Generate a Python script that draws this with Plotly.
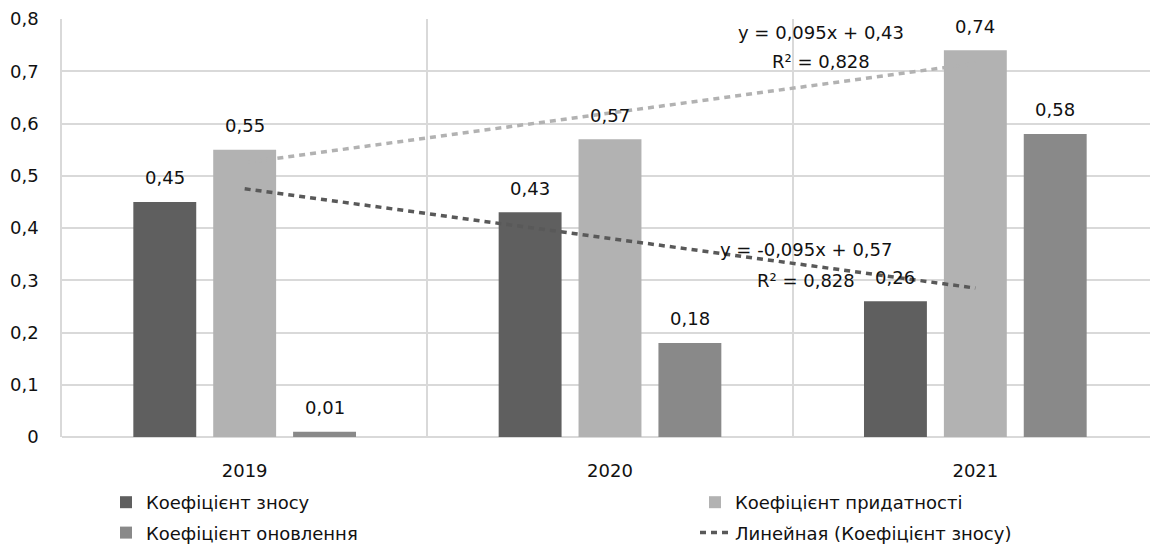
import numpy as np
import plotly.graph_objects as go

# ---- data ----
years = ["2019", "2020", "2021"]
znos = [0.45, 0.43, 0.26]          # Коефіцієнт зносу
prydatnist = [0.55, 0.57, 0.74]    # Коефіцієнт придатності
onovlennia = [0.01, 0.18, 0.58]    # Коефіцієнт оновлення
y_tick_vals = [0, 0.1, 0.2, 0.3, 0.4, 0.5, 0.6, 0.7, 0.8]

name_znos = "Коефіцієнт зносу"
name_pryd = "Коефіцієнт придатності"
name_onov = "Коефіцієнт оновлення"
name_trend = "Линейная (Коефіцієнт зносу)"

# ---- style ----
FONT = "DejaVu Sans"
FS = 18
TXT = "#111111"
C_DARK = "#5f5f5f"
C_LIGHT = "#b2b2b2"
C_MID = "#898989"
GRID = "#d9d9d9"
OFF = 8  # page body margin
W, H = 1158 - OFF, 546 - OFF
ML, MR, MT, MB = 62 - OFF, 0, 19 - OFF, 109
BARGAP = 0.344
BARGROUPGAP = 0.2125

x = np.arange(len(years))
slot = (1 - BARGAP) / 3


def fmt(v, nd):
    return f"{v:.{nd}f}".replace(".", ",")


def trend(vals):
    xs = np.arange(1, len(vals) + 1)
    a, b = np.polyfit(xs, vals, 1)
    fit = a * xs + b
    y = np.array(vals)
    r2 = 1 - np.sum((y - fit) ** 2) / np.sum((y - y.mean()) ** 2)
    return a, b, r2, fit


fig = go.Figure()
series = [
    (name_znos, znos, C_DARK, "legend"),
    (name_pryd, prydatnist, C_LIGHT, "legend2"),
    (name_onov, onovlennia, C_MID, "legend"),
]
for k, (name, vals, col, lg) in enumerate(series):
    fig.add_trace(go.Bar(x=x, y=vals, name=name, marker=dict(color=col, line=dict(width=0)),
                         legend=lg, legendgroup=f"g{k}", hoverinfo="y+name"))

# trend lines
a1, b1, r21, fit1 = trend(znos)
a2, b2, r22, fit2 = trend(prydatnist)
fig.add_trace(go.Scatter(x=x, y=fit2, mode="lines", showlegend=False,
                         line=dict(color=C_LIGHT, width=3.5, dash="6px,5px")))
fig.add_trace(go.Scatter(x=x, y=fit1, mode="lines", name=name_trend, legend="legend2",
                         legendgroup="g3",
                         line=dict(color="#595959", width=3.5, dash="6px,5px")))

annotations = []
# data labels
for k, (name, vals, col, lg) in enumerate(series):
    for i, v in enumerate(vals):
        annotations.append(dict(x=i + (k - 1) * slot, y=v, xref="x", yref="y",
                                text=fmt(v, 2), showarrow=False, yanchor="middle",
                                yshift=24, font=dict(family=FONT, size=FS, color=TXT)))


def eq_text(a, b):
    sign = "+" if b >= 0 else "-"
    return f"y = {fmt(a, 3)}x {sign} {fmt(abs(b), 2)}"


# equation labels
eqs = [
    (eq_text(a2, b2), f"R² = {fmt(r22, 3)}", 1.578, 0.775, 0.718),
    (eq_text(a1, b1), f"R² = {fmt(r21, 3)}", 1.537, 0.358, 0.2986),
]
for t1, t2, ex, ey1, ey2 in eqs:
    annotations.append(dict(x=ex, y=ey1, xref="x", yref="y", text=t1, showarrow=False,
                            font=dict(family=FONT, size=FS, color=TXT)))
    annotations.append(dict(x=ex, y=ey2, xref="x", yref="y", text=t2, showarrow=False,
                            font=dict(family=FONT, size=FS, color=TXT)))

legend_common = dict(xref="container", yref="container", xanchor="left", yanchor="top",
                     orientation="v", bgcolor="rgba(0,0,0,0)", tracegroupgap=4,
                     font=dict(family=FONT, size=FS, color=TXT), itemclick=False,
                     itemdoubleclick=False)

fig.update_layout(
    width=W, height=H,
    margin=dict(l=ML, r=MR, t=MT, b=MB, pad=0, autoexpand=False),
    paper_bgcolor="white", plot_bgcolor="white",
    barmode="group", bargap=BARGAP, bargroupgap=BARGROUPGAP,
    separators=", ",
    font=dict(family=FONT, size=FS, color=TXT),
    annotations=annotations,
    legend=dict(x=98 / W, y=1 - 476 / H, **legend_common),
    legend2=dict(x=687 / W, y=1 - 476 / H, **legend_common),
    xaxis=dict(range=[-0.5, len(years) - 0.5], tickmode="array", tickvals=x, ticktext=years,
               showgrid=False, zeroline=False, showline=False, ticks="",
               ticklabelstandoff=21, tickfont=dict(family=FONT, size=FS, color=TXT),
               minor=dict(tickmode="array", tickvals=list(x[:-1] + 0.5), showgrid=True,
                          gridcolor=GRID, gridwidth=1.5, ticks="")),
    yaxis=dict(range=[0, 0.8], tickmode="array", tickvals=y_tick_vals,
               showgrid=True, gridcolor=GRID, gridwidth=1.5, zeroline=True,
               zerolinecolor=GRID, zerolinewidth=1.5, showline=True, linecolor=GRID,
               linewidth=1.5, ticks="", ticklabelstandoff=18,
               tickfont=dict(family=FONT, size=FS, color=TXT)),
)

fig.write_html("out.html")
